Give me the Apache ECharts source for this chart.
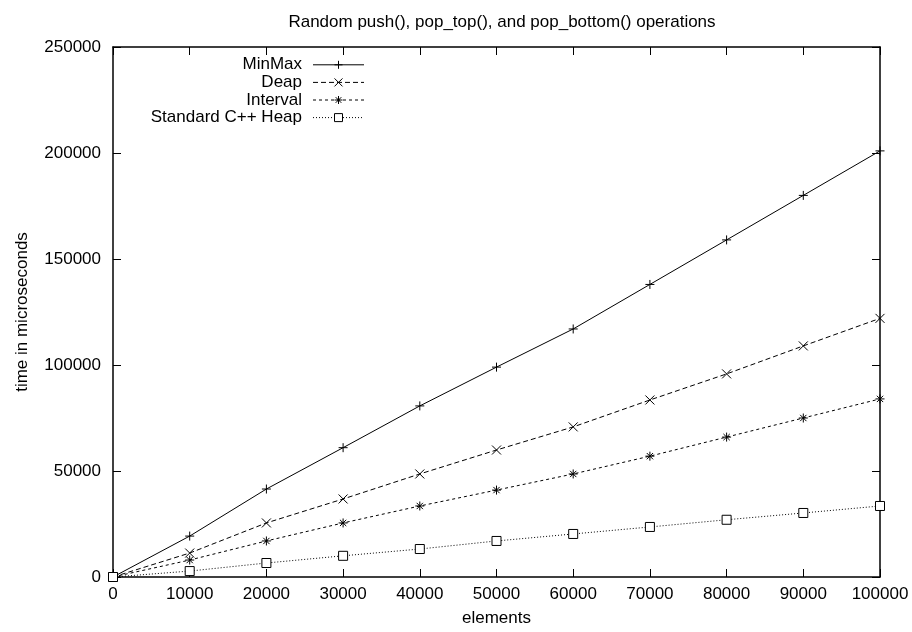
<!DOCTYPE html>
<html><head><meta charset="utf-8">
<script src="https://cdn.jsdelivr.net/npm/echarts@6/dist/echarts.min.js"></script>
<style>html,body{margin:0;padding:0;background:#fff}#c{width:912px;height:632px}</style>
</head><body><div id="c"></div>
<script>
const elements = [0, 10000, 20000, 30000, 40000, 50000, 60000, 70000, 80000, 90000, 100000];
const minMax   = [0, 19300, 41500, 61000, 80700, 99000, 117000, 138000, 159000, 180000, 201000];
const deap     = [0, 11300, 25500, 36800, 48600, 59900, 70800, 83500, 95800, 109000, 122000];
const interval = [0, 8000, 17000, 25500, 33500, 41000, 48600, 57000, 66000, 75000, 84000];
const stdHeap  = [0, 2800, 6600, 10000, 13200, 17000, 20300, 23600, 27000, 30200, 33500];
const seriesNames = ['MinMax', 'Deap', 'Interval', 'Standard C++ Heap'];

const FONT = 'Liberation Sans, Arial, sans-serif';
const FS = 17;
const plus = 'path://M0,5L10,5M5,0L5,10';
const cross = 'path://M0,0L10,10M10,0L0,10';
const star = 'path://M0,5L10,5M5,0L5,10M1.5,1.5L8.5,8.5M8.5,1.5L1.5,8.5';

function pairs(ys){ return elements.map((x,i)=>[x, ys[i]]); }
function mk(name, ys, symbol, dash, filled){
  return {
    name, type:'line', data:pairs(ys), symbol, symbolSize:9,
    showAllSymbol:true, animation:false,
    lineStyle:{color:'#000', width:1, type:dash},
    itemStyle:{color: filled ? '#000' : '#fff', borderColor:'#000', borderWidth:1},
    emphasis:{disabled:true}
  };
}
function ticks(){ return {show:true, inside:true, length:8, lineStyle:{color:'#000', width:1}}; }
function line(){ return {show:true, onZero:false, lineStyle:{color:'#000', width:1.5}}; }
const chart = echarts.init(document.getElementById('c'));
chart.setOption({
  backgroundColor:'#fff',
  animation:false,
  title:{text:'Random push(), pop_top(), and pop_bottom() operations', left:497, textAlign:'center', top:9,
    textStyle:{fontFamily:FONT, fontSize:FS, fontWeight:'normal', color:'#000'}},
  grid:{left:113, right:32, top:47, bottom:55, outerBoundsMode:'none', containLabel:false},
  legend:{
    orient:'vertical', left:140, top:56, padding:0, align:'right',
    itemWidth:51, itemHeight:10, itemGap:0,
    data:seriesNames,
    itemStyle:{borderWidth:1},
    lineStyle:{width:1},
    textStyle:{fontFamily:FONT, fontSize:FS, color:'#000', width:162, align:'right', lineHeight:17.6, padding:[0,6,0,0]},
    selectedMode:false
  },
  xAxis:[{
    type:'value', min:0, max:100000, interval:10000,
    name:'elements', nameLocation:'middle', nameGap:33,
    nameTextStyle:{fontFamily:FONT, fontSize:FS, color:'#000'},
    axisLine:line(), axisTick:ticks(), splitLine:{show:false},
    axisLabel:{fontFamily:FONT, fontSize:FS, color:'#000', margin:9, formatter:v=>String(v)}
  },{
    type:'value', position:'top', min:0, max:100000, interval:10000,
    axisLine:line(), axisTick:ticks(), axisLabel:{show:false}, splitLine:{show:false}
  }],
  yAxis:[{
    type:'value', min:0, max:250000, interval:50000,
    name:'time in microseconds', nameLocation:'middle', nameGap:82,
    nameTextStyle:{fontFamily:FONT, fontSize:FS, color:'#000'},
    axisLine:line(), axisTick:ticks(), splitLine:{show:false},
    axisLabel:{fontFamily:FONT, fontSize:FS, color:'#000', margin:12, formatter:v=>String(v)}
  },{
    type:'value', position:'right', min:0, max:250000, interval:50000,
    axisLine:line(), axisTick:ticks(), axisLabel:{show:false}, splitLine:{show:false}
  }],
  series:[
    mk('MinMax', minMax, plus, 'solid', true),
    mk('Deap', deap, cross, [5,3], true),
    mk('Interval', interval, star, [3,3], true),
    mk('Standard C++ Heap', stdHeap, 'rect', [1,2], false)
  ]
});
</script></body></html>
